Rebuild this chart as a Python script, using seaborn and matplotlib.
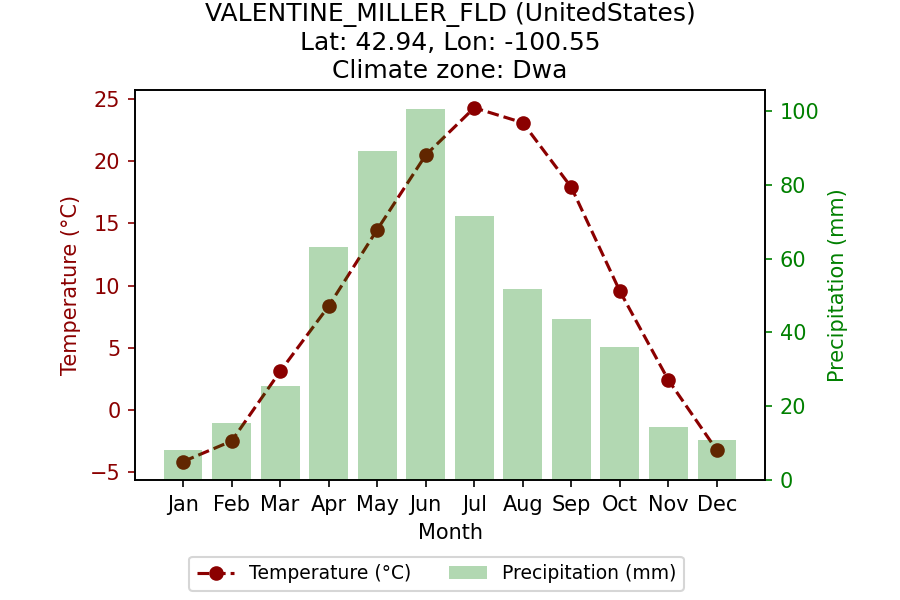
import matplotlib
matplotlib.use("Agg")
import matplotlib.pyplot as plt
import seaborn as sns
import pandas as pd

months = ["Jan","Feb","Mar","Apr","May","Jun","Jul","Aug","Sep","Oct","Nov","Dec"]
temperature = [-4.15,-2.5,3.1,8.35,14.5,20.5,24.3,23.1,17.9,9.55,2.4,-3.25]
precipitation = [8.2,15.5,25.5,63.2,89.1,100.6,71.5,51.8,43.5,36.0,14.3,10.8]

df = pd.DataFrame({"Month":months,"Temperature":temperature,"Precipitation":precipitation})

fig, ax1 = plt.subplots(figsize=(6,4), dpi=150)
sns.lineplot(data=df, x="Month", y="Temperature", color="darkred", linestyle="--", marker="o", markersize=6, markeredgecolor="darkred", markeredgewidth=1.0, linewidth=1.5, label="Temperature (°C)", sort=False, ax=ax1, legend=False)
ax2 = ax1.twinx()
sns.barplot(data=df, x="Month", y="Precipitation", color="green", alpha=0.3, saturation=1, ax=ax2, label="Precipitation (mm)", width=0.8, legend=False)

ax1.set_xlabel("Month")
ax1.set_ylabel("Temperature (°C)", color="darkred")
ax2.set_ylabel("Precipitation (mm)", color="green")
ax1.tick_params(axis="y", colors="darkred")
ax2.tick_params(axis="y", colors="green")
ax1.set_yticks([-5,0,5,10,15,20,25])
ax1.set_ylim(-5.63,25.73)
ax2.set_ylim(0,105.7)
ax2.set_yticks([0,20,40,60,80,100])
ax1.set_xlim(-0.99,11.99)
ax1.set_title("VALENTINE_MILLER_FLD (UnitedStates)\nLat: 42.94, Lon: -100.55\nClimate zone: Dwa", fontsize=12)

h1,l1 = ax1.get_legend_handles_labels()
h2,l2 = ax2.get_legend_handles_labels()
fig.legend(h1+h2,l1+l2,loc="lower center",ncol=2,fontsize=9,bbox_to_anchor=(0.485,0.0))
fig.subplots_adjust(left=0.15,right=0.85,top=0.85,bottom=0.2)
fig.savefig("out.png",dpi=150)
